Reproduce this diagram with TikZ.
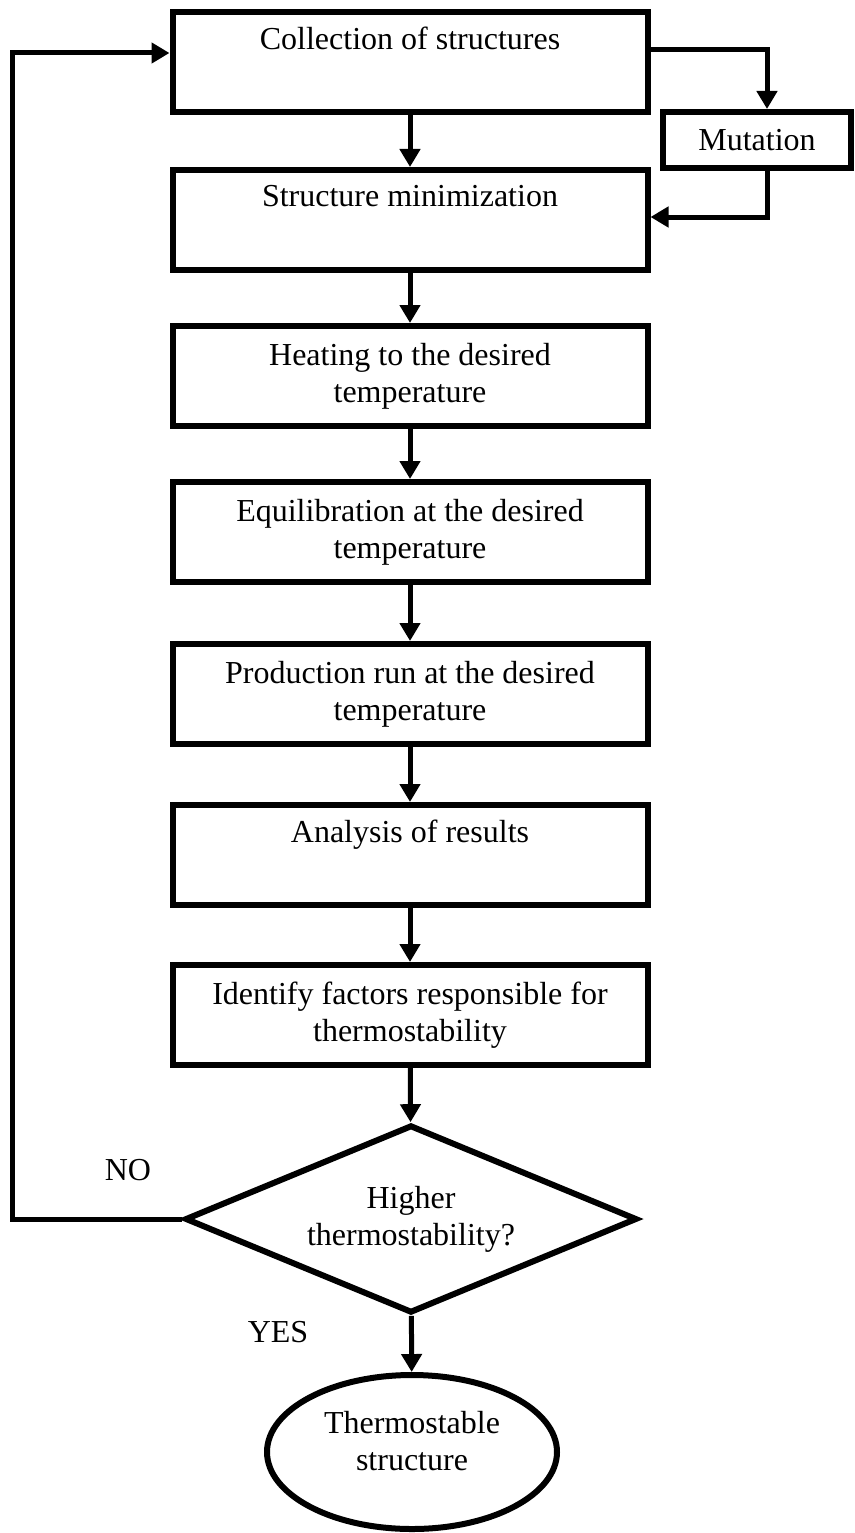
\documentclass[tikz,border=0pt]{standalone}
\usepackage{fontspec}
\setmainfont{Liberation Serif}
\usetikzlibrary{arrows.meta,shapes.geometric}
\begin{document}
\begin{tikzpicture}[x=1pt,y=-1pt,
  every node/.style={font=\fontsize{32}{37}\selectfont},
  procbox/.style={draw,line width=6pt,minimum width=475pt,minimum height=100pt,align=center,inner sep=0pt},
  flow/.style={line width=5pt,-{Triangle[width=20pt,length=18pt]}}]
\useasboundingbox (0,0) rectangle (854,1533);
\foreach \nm/\yy/\txt in {coll/62/{Collection of structures\\\strut},
  smin/220/{Structure minimization\\\strut},
  heat/376/{Heating to the desired\\temperature},
  equi/532/{Equilibration at the desired\\temperature},
  prod/694/{Production run at the desired\\temperature},
  anal/855/{Analysis of results\\\strut},
  iden/1015/{Identify factors responsible for\\thermostability}} {
  \node[procbox] (\nm) at (410,\yy) {\txt};
}
\node[draw,line width=6pt,minimum width=188pt,minimum height=56pt,inner sep=0pt] (mut) at (757,140) {Mutation};
\node[draw,diamond,aspect=2.4,line width=6pt,minimum width=452pt,minimum height=188pt,inner sep=0pt,align=center] (dec) at (411,1219) {Higher\\thermostability?};
\node[draw,ellipse,line width=6pt,minimum width=290pt,minimum height=154pt,inner sep=0pt,align=center] (res) at (412,1452) {Thermostable\\structure\\[-26pt]\strut};
\coordinate (back) at (12,1219);
% main chain
\foreach \a/\b in {coll/smin,smin/heat,heat/equi,equi/prod,prod/anal,anal/iden,iden/dec,dec/res}
  \draw[flow] (\a) -- (\b);
\draw[flow] ([yshift=12pt]coll.east) -| ([xshift=10pt]mut.north);
\draw[flow] ([xshift=10pt]mut.south) |- ([yshift=3pt]smin.east);
\draw[flow] (dec.west) -- (back) |- ([yshift=9pt]coll.west);
\node (no) at (128,1170) {NO};
\node (yes) at (278,1332) {YES};
\end{tikzpicture}
\end{document}
